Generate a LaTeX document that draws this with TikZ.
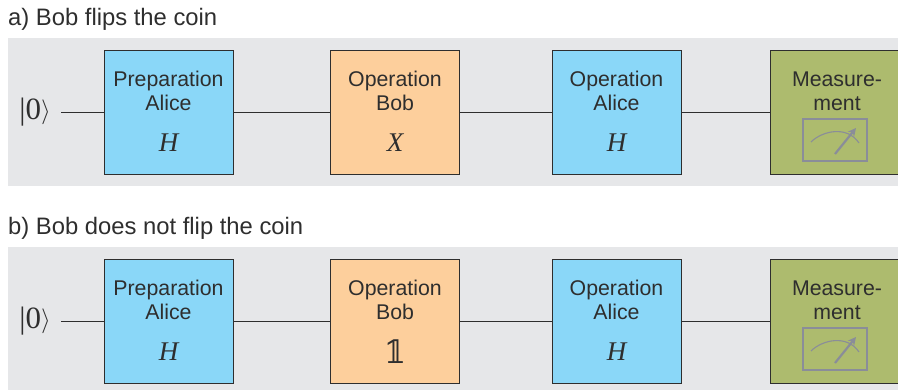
\documentclass[tikz,border=0pt]{standalone}
\usepackage{fontspec}
\setmainfont{Liberation Sans}
\newfontfamily\symfont{Liberation Serif}
\newfontfamily\bbfont{DejaVu Serif}
\usetikzlibrary{arrows.meta}

\definecolor{panelgray}{HTML}{E6E7E9}
\definecolor{aliceblue}{HTML}{8AD7F8}
\definecolor{boborange}{HTML}{FDCF9C}
\definecolor{measgreen}{HTML}{ADBB6E}
\definecolor{inkgray}{HTML}{2E2E2E}
\definecolor{metergray}{HTML}{8A8D99}

\tikzset{
    gatebox/.style={draw=inkgray, line width=1pt, minimum width=129pt, minimum height=124pt, inner sep=0pt},
    gatelabel/.style={text=inkgray, align=center, inner sep=0pt, font=\fontsize{21.3}{24}\selectfont},
    gatesym/.style={text=inkgray, inner sep=0pt, font=\fontsize{27}{30}\symfont\itshape},
    titlelabel/.style={text=inkgray, inner sep=0pt, anchor=base west, font=\fontsize{23.8}{26}\selectfont},
    wire/.style={draw=inkgray, line width=1pt},
    meter/.style={draw=metergray, line width=1.1pt}
}

\begin{document}
\begin{tikzpicture}[x=1pt,y=-1pt]

\clip (0,0) rectangle (898,389);

\foreach \p/\dy/\ptitle/\opsym in {a/0/{a) Bob flips the coin}/{X},b/209/{b) Bob does not flip the coin}/{\normalfont\bbfont\fontsize{32}{34}\selectfont 𝟙}}
{
    \begin{scope}[yshift=-\dy pt]
    \fill[panelgray] (8,38) rectangle (898,186);
    \node[titlelabel] (title\p) at (8,25) {\ptitle};

    \node[text=inkgray, inner sep=0pt, minimum width=52pt, font=\fontsize{31}{33}\symfont] (ket\p) at (35,112) {|0\raisebox{0.5pt}{$\rangle$}};

    \node[gatebox, fill=aliceblue] (prep\p) at (168.5,112) {};
    \node[gatebox, fill=boborange] (opbob\p) at (395,112) {};
    \node[gatebox, fill=aliceblue] (opalice\p) at (616.5,112) {};
    \node[gatebox, fill=measgreen] (meas\p) at (834.5,112) {};

    \draw[wire] (ket\p) -- (prep\p);
    \draw[wire] (prep\p) -- (opbob\p);
    \draw[wire] (opbob\p) -- (opalice\p);
    \draw[wire] (opalice\p) -- (meas\p);

    \node[gatelabel] (preplabel\p) at (168.5,91) {Preparation\\Alice};
    \node[gatelabel] (opboblabel\p) at (395,91) {Operation\\Bob};
    \node[gatelabel] (opalicelabel\p) at (616.5,91) {Operation\\Alice};
    \node[gatelabel] (measlabel\p) at (837,91) {Measure-\\ment};

    \node[gatesym] (prepsym\p) at (168.5,143) {H};
    \node[gatesym] (opbobsym\p) at (395,143) {\opsym};
    \node[gatesym] (opalicesym\p) at (616.5,143) {H};

    % meter icon
    \draw[meter] (803,119) rectangle (867,161);
    \draw[meter] (811,142) .. controls (822,131) and (847,125) .. (859,143);
    \draw[meter, line width=2.2pt, -{Stealth[length=8pt,width=8pt]}] (835,154) -- (856,128);
    \end{scope}
}

\end{tikzpicture}
\end{document}
